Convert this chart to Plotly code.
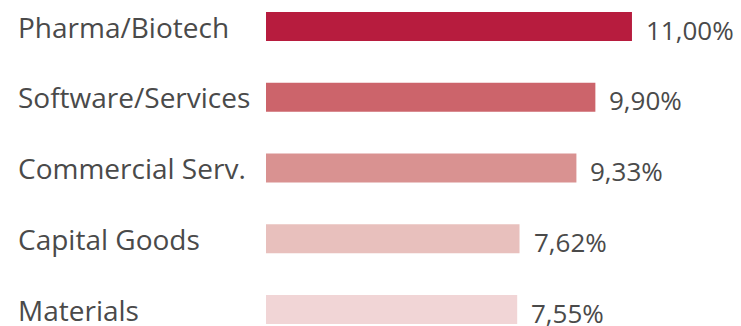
import plotly.graph_objects as go

categories = ["Pharma/Biotech", "Software/Services", "Commercial Serv.", "Capital Goods", "Materials"]
values = [11.00, 9.90, 9.33, 7.62, 7.55]
value_labels = ["11,00%", "9,90%", "9,33%", "7,62%", "7,55%"]
bar_colors = ["#B71C3E", "#CC646B", "#D99291", "#E8C0BD", "#F1D5D6"]

W, H = 741, 326
L = 266
px_per_unit = 33.27
plot_w = W - L
x_max = plot_w / px_per_unit

slot = 70.75
top_off = 26.5 / slot
y_top = -top_off
y_bot = y_top + H / slot

TEXT = "#4a4a4a"
FONT = "Open Sans"

fig = go.Figure(go.Bar(
    x=values, y=categories, orientation="h",
    marker=dict(color=bar_colors, line=dict(width=0)),
    width=0.41, hoverinfo="skip",
))

ann = []
for c, v, t in zip(categories, values, value_labels):
    ann.append(dict(x=v, y=c, xref="x", yref="y", text=t, showarrow=False,
                    xanchor="left", yanchor="middle", xshift=12, yshift=-3,
                    font=dict(family=FONT, size=26, color=TEXT)))
    ann.append(dict(x=(16 - L) / plot_w, y=c, xref="paper", yref="y", text=c,
                    showarrow=False, xanchor="left", yanchor="middle", yshift=0,
                    font=dict(family=FONT, size=28, color=TEXT)))

fig.update_layout(
    width=W, height=H,
    margin=dict(l=L, r=0, t=0, b=0),
    paper_bgcolor="white", plot_bgcolor="white",
    showlegend=False,
    xaxis=dict(range=[0, x_max], visible=False, fixedrange=True),
    yaxis=dict(range=[y_bot, y_top], showticklabels=False, showgrid=False,
               zeroline=False, showline=False, ticks="", fixedrange=True,
               categoryorder="array", categoryarray=categories),
    annotations=ann,
)

fig.write_html("out.html", config={"displayModeBar": False})
